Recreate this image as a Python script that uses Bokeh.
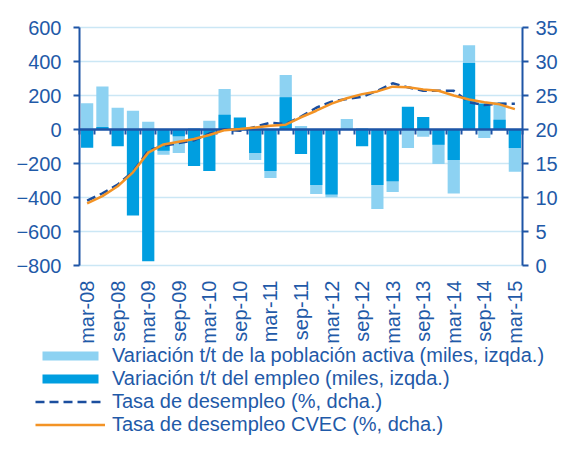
import math
from bokeh.plotting import figure
from bokeh.models import (Range1d, LinearAxis, FixedTicker, Legend, LegendItem,
                          ColumnDataSource, Grid)
from bokeh.embed import file_html
from bokeh.resources import INLINE

quarters = ["mar-08", "jun-08", "sep-08", "dic-08", "mar-09", "jun-09", "sep-09", "dic-09",
            "mar-10", "jun-10", "sep-10", "dic-10", "mar-11", "jun-11", "sep-11", "dic-11",
            "mar-12", "jun-12", "sep-12", "dic-12", "mar-13", "jun-13", "sep-13", "dic-13",
            "mar-14", "jun-14", "sep-14", "dic-14", "mar-15"]
active = [155, 253, 128, 110, 46, -148, -138, 9, 52, 238, 30, -179, -285, 320, 20,
          -379, -399, 62, 9, -467, -367, -109, -42, -203, -377, 496, -50, 160, -248]
employment = [-107, 15, -99, -506, -775, -125, -40, -215, -244, 87, 71, -138, -244, 189, -144,
              -326, -383, 0, -99, -326, -305, 134, 73, -89, -179, 391, 153, 57, -109]
unemp_rate = [9.55, 10.6, 11.9, 13.8, 16.9, 17.6, 18.0, 18.4, 19.4, 20.0, 19.8, 20.4, 21.0,
              20.8, 21.9, 23.2, 24.1, 24.5, 24.8, 25.7, 26.8, 26.2, 25.7, 25.7, 25.7, 24.0,
              23.6, 23.8, 23.8]
cvec_rate = [9.15, 10.2, 11.65, 13.7, 16.6, 17.8, 18.2, 18.6, 19.2, 19.9, 20.07, 20.3, 20.55,
             20.7, 21.8, 22.76, 23.8, 24.6, 25.2, 25.6, 26.3, 26.2, 25.9, 25.7, 25.0, 24.4,
             24.0, 23.7, 23.0]
left_ticks = [-800, -600, -400, -200, 0, 200, 400, 600]
right_ticks = [0, 5, 10, 15, 20, 25, 30, 35]
legend_labels = ["Variación t/t de la población activa (miles, izqda.)",
                 "Variación t/t del empleo (miles, izqda.)",
                 "Tasa de desempleo (%, dcha.)",
                 "Tasa de desempleo CVEC (%, dcha.)"]

idx = list(range(len(quarters)))
src = ColumnDataSource(dict(x=idx, active=active, emp=employment,
                            unemp=unemp_rate, cvec=cvec_rate))

TXT = "#1F5AA8"
AX = "#1E55A6"
LIGHT = "#8DD2F2"
DARK = "#009EE0"
DASH = "#1B4E9E"
ORANGE = "#F39325"
GRID = "#CBE7F5"
FONT = "Liberation Sans"

# layout (pixels): the frame covers the whole canvas, the chart area sits inside it
W, H = 558, 436
PX_L, PX_R, PX_T, PX_B = 79, 522, 27, 265
X0, X1 = -0.5, len(quarters) - 0.5
Y0, Y1 = left_ticks[0], left_ticks[-1]
R0, R1 = right_ticks[0], right_ticks[-1]

kx = (X1 - X0) / (PX_R - PX_L)
ky = (Y1 - Y0) / (PX_B - PX_T)
kr = (R1 - R0) / (PX_B - PX_T)

p = figure(width=W, height=H, output_backend="svg", toolbar_location=None,
           x_range=Range1d(X0 - PX_L * kx, X1 + (W - PX_R) * kx),
           y_range=Range1d(Y0 - (H - PX_B) * ky, Y1 + PX_T * ky),
           x_axis_location=None, y_axis_location=None, min_border=0)
p.outline_line_color = None
p.extra_y_ranges = {"rate": Range1d(R0 - (H - PX_B) * kr, R1 + PX_T * kr)}

# grid (horizontal lines only, limited to chart area)
p.xgrid.visible = False
p.ygrid.ticker = FixedTicker(ticks=left_ticks)
p.ygrid.grid_line_color = GRID
p.ygrid.grid_line_width = 1.5
if "cross_bounds" in Grid.properties():
    p.ygrid.cross_bounds = (X0, X1)

# bars
r_act = p.vbar(x="x", top="active", bottom=0, width=0.8, source=src,
               fill_color=LIGHT, line_color=None)
r_emp = p.vbar(x="x", top="emp", bottom=0, width=0.8, source=src,
               fill_color=DARK, line_color=None)

# axes at fixed data locations
left = LinearAxis(fixed_location=X0, bounds=(Y0, Y1), ticker=FixedTicker(ticks=left_ticks))
right = LinearAxis(fixed_location=X1, bounds=(R0, R1), y_range_name="rate",
                   ticker=FixedTicker(ticks=right_ticks))
for ax in (left, right):
    ax.axis_line_color = AX
    ax.axis_line_width = 2
    ax.major_tick_line_color = AX
    ax.major_tick_line_width = 2
    ax.major_tick_in = 0
    ax.major_tick_out = 6
    ax.minor_tick_line_color = None
left.major_label_standoff = 12
right.major_label_standoff = 7
p.add_layout(left, "left")
p.add_layout(right, "right")

bottom = LinearAxis(fixed_location=Y0, ticker=FixedTicker(ticks=idx[::2]))
bottom.major_label_overrides = {i: quarters[i] for i in idx[::2]}
bottom.major_label_orientation = math.pi / 2
bottom.axis_line_color = None
bottom.major_tick_line_color = None
bottom.minor_tick_line_color = None
bottom.major_tick_out = 0
bottom.major_label_standoff = 15
p.add_layout(bottom, "below")

for ax in (left, right, bottom):
    ax.major_label_text_font = FONT
    ax.major_label_text_font_size = "20px"
    ax.major_label_text_color = TXT

zero_axis = LinearAxis(fixed_location=0, bounds=(X0, X1),
                       ticker=FixedTicker(ticks=[i - 0.5 for i in idx] + [X1]))
zero_axis.major_label_text_font_size = "0px"
zero_axis.major_label_text_color = None
zero_axis.major_tick_in = 0
zero_axis.major_tick_out = 5
zero_axis.minor_tick_line_color = None
zero_axis.axis_line_width = 2.5
zero_axis.axis_line_color = AX
zero_axis.major_tick_line_color = AX
zero_axis.major_tick_line_width = 2
p.add_layout(zero_axis, "below")

# lines
r_un = p.line(x="x", y="unemp", source=src, y_range_name="rate", line_color=DASH,
              line_width=2.5, line_dash="9 5", level="overlay")
r_cv = p.line(x="x", y="cvec", source=src, y_range_name="rate", line_color=ORANGE,
              line_width=2.5, level="overlay")

legend = Legend(items=[LegendItem(label=t, renderers=[r])
                       for t, r in zip(legend_labels, [r_act, r_emp, r_un, r_cv])],
                location=(35, 0))
legend.border_line_color = None
legend.background_fill_alpha = 0
legend.padding = 0
legend.margin = 0
legend.spacing = 0
legend.glyph_width = 70
legend.glyph_height = 11
legend.label_standoff = 7
legend.label_text_font = FONT
legend.label_text_font_size = "20px"
legend.label_text_color = TXT
legend.label_height = 22
p.add_layout(legend, "center")

open("out.html", "w").write(file_html(p, INLINE))
